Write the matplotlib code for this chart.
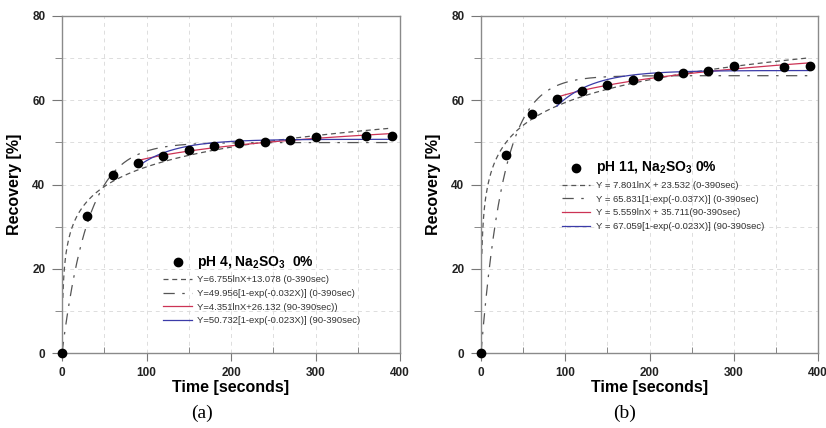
import numpy as np
import matplotlib
matplotlib.use("Agg")
import matplotlib.pyplot as plt

# ---- data ----
time_s = [0, 30, 60, 90, 120, 150, 180, 210, 240, 270, 300, 360, 390]
recovery_ph4 = [0, 32.6, 42.3, 45.0, 46.7, 48.2, 49.2, 49.8, 50.2, 50.6, 51.2, 51.4, 51.5]
recovery_ph11 = [0, 46.9, 56.8, 60.2, 62.2, 63.6, 64.7, 65.7, 66.5, 67.0, 68.1, 68.0, 68.1]

# fitted-equation coefficients printed in the legends
ph4_log_all = [6.755, 13.078]      # Y = a lnX + b (0-390)
ph4_exp_all = [49.956, 0.032]      # Y = A[1-exp(-kX)] (0-390)
ph4_log_late = [4.351, 26.132]     # (90-390)
ph4_exp_late = [50.732, 0.023]     # (90-390)
ph11_log_all = [7.801, 23.532]
ph11_exp_all = [65.831, 0.037]
ph11_log_late = [5.559, 35.711]
ph11_exp_late = [67.059, 0.023]

ph4_labels = ["pH 4, Na$_\\mathbf{2}$SO$_\\mathbf{3}$  0%",
              "Y=6.755lnX+13.078 (0-390sec)",
              "Y=49.956[1-exp(-0.032X)] (0-390sec)",
              "Y=4.351lnX+26.132 (90-390sec))",
              "Y=50.732[1-exp(-0.023X)] (90-390sec)"]
ph11_labels = ["pH 11, Na$_\\mathbf{2}$SO$_\\mathbf{3}$ 0%",
               "Y = 7.801lnX + 23.532 (0-390sec)",
               "Y = 65.831[1-exp(-0.037X)] (0-390sec)",
               "Y = 5.559lnX + 35.711(90-390sec)",
               "Y = 67.059[1-exp(-0.023X)] (90-390sec)"]

x_ticks = [0, 100, 200, 300, 400]
y_ticks = [0, 20, 40, 60, 80]

plt.rcParams['font.family'] = ['Liberation Sans', 'DejaVu Sans']
plt.rcParams['mathtext.fontset'] = 'custom'
plt.rcParams['mathtext.rm'] = 'Liberation Sans'
plt.rcParams['mathtext.bf'] = 'Liberation Sans:bold'

fig = plt.figure(figsize=(8.26, 4.28), dpi=100)
ax_a = fig.add_axes([62/826, 1-353/428, 338/826, 337/428])
ax_b = fig.add_axes([481/826, 1-353/428, 337/826, 337/428])

GRAY = '#555555'
RED = '#cc3355'
BLUE = '#3b3ba8'


def panel(ax, y, log_all, exp_all, log_late, exp_late, labels, leg_anchor, tag, tag_x):
    x_log = np.linspace(1, 390, 400)
    x_exp = np.linspace(0, 390, 400)
    x_late = np.linspace(90, 390, 300)
    h_dot, = ax.plot(time_s, y, 'o', color='black', ms=6, clip_on=False, zorder=5)
    h1, = ax.plot(x_log, log_all[0]*np.log(x_log) + log_all[1], color=GRAY, lw=0.9,
                  dashes=(4, 3))
    h2, = ax.plot(x_exp, exp_all[0]*(1-np.exp(-exp_all[1]*x_exp)), color=GRAY, lw=0.9,
                  dashes=(9, 6, 2, 6))
    h3, = ax.plot(x_late, log_late[0]*np.log(x_late) + log_late[1], color=RED, lw=0.9)
    h4, = ax.plot(x_late, exp_late[0]*(1-np.exp(-exp_late[1]*x_late)), color=BLUE, lw=0.9)

    ax.set_xlim(0, 400)
    ax.set_ylim(0, 80)
    ax.set_xticks(x_ticks)
    ax.set_yticks(y_ticks)
    ax.set_xticks([50, 150, 250, 350], minor=True)
    ax.set_yticks([10, 30, 50, 70], minor=True)
    ax.tick_params(axis='x', which='major', direction='out', length=6, color='#777777',
                   labelsize=8.5, pad=4)
    ax.tick_params(axis='x', which='minor', direction='in', length=4, color='#777777')
    ax.tick_params(axis='y', which='major', direction='out', length=7, color='#777777',
                   labelsize=8.5, pad=5)
    ax.tick_params(axis='y', which='minor', direction='out', length=5, color='#777777')
    for lab in ax.get_xticklabels() + ax.get_yticklabels():
        lab.set_fontweight('bold')
        lab.set_color('#222222')
    ax.grid(which='both', color='#dddddd', lw=0.7, dashes=(4, 4))
    ax.set_axisbelow(True)
    for s in ax.spines.values():
        s.set_color('#8a8a8a')
        s.set_linewidth(1.0)
    ax.set_xlabel('Time [seconds]', fontsize=11.5, fontweight='bold', labelpad=1)
    ax.set_ylabel('Recovery [%]', fontsize=11.5, fontweight='bold', labelpad=7)

    leg = ax.legend([h_dot, h1, h2, h3, h4], labels, loc='upper left',
                    bbox_to_anchor=leg_anchor, frameon=False, fontsize=6.8,
                    handlelength=3.0, handletextpad=0.6, labelspacing=0.5,
                    borderpad=0, borderaxespad=0)
    t0 = leg.get_texts()[0]
    t0.set_fontsize(10)
    t0.set_fontweight('bold')
    for t in leg.get_texts()[1:]:
        t.set_color('#333333')
    fig.text(tag_x, 1-413/428, tag, ha='center', va='center', fontsize=14,
             family=['Liberation Serif', 'DejaVu Serif'])


panel(ax_a, recovery_ph4, ph4_log_all, ph4_exp_all, ph4_log_late, ph4_exp_late,
      ph4_labels, (0.30, 0.295), '(a)', 202/826)
panel(ax_b, recovery_ph11, ph11_log_all, ph11_exp_all, ph11_log_late, ph11_exp_late,
      ph11_labels, (0.24, 0.575), '(b)', 625/826)

fig.savefig('out.png', dpi=100)
